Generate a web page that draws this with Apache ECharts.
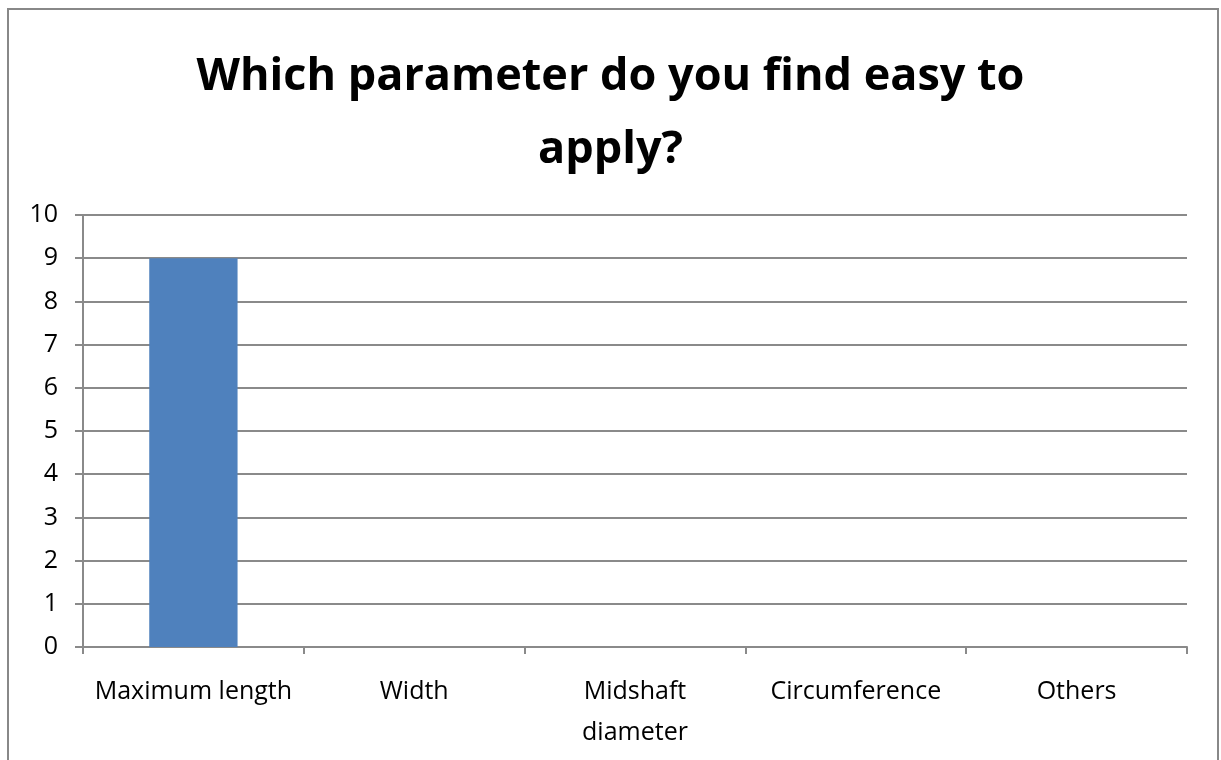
<!DOCTYPE html>
<html><head><meta charset="utf-8">
<script src="https://cdn.jsdelivr.net/npm/echarts@6/dist/echarts.min.js"></script>
<style>html,body{margin:0;padding:0;background:#fff}#c{width:1221px;height:760px}</style>
</head><body><div id="c"></div>
<script>
const titleText = "Which parameter do you find easy to\napply?";
const categories = ["Maximum length", "Width", "Midshaft\ndiameter", "Circumference", "Others"];
const values = [9, 0, 0, 0, 0];
const yMin = 0, yMax = 10, yInterval = 1;

const chart = echarts.init(document.getElementById('c'), null, {renderer: 'canvas'});
const gridColor = '#8a8a8a';
chart.setOption({
  animation: false,
  backgroundColor: '#fff',
  title: {
    text: titleText, left: 'center', top: 36,
    textStyle: {fontFamily: 'Open Sans', fontWeight: 'bold', fontSize: 45, color: '#000', lineHeight: 73}
  },
  graphic: [{type: 'rect', shape: {x: 8, y: 9, width: 1210, height: 780}, style: {fill: 'none', stroke: '#888', lineWidth: 2}, silent: true}],
  grid: {left: 83, right: 34, top: 215, bottom: 113, containLabel: false},
  xAxis: {
    type: 'category', data: categories,
    axisLine: {lineStyle: {color: gridColor, width: 2}},
    axisTick: {show: true, alignWithLabel: false, length: 7, lineStyle: {color: gridColor, width: 2}},
    axisLabel: {color: '#000', fontFamily: 'Open Sans', fontSize: 25, margin: 24, lineHeight: 41, interval: 0}
  },
  yAxis: {
    type: 'value', min: yMin, max: yMax, interval: yInterval,
    axisLine: {show: true, lineStyle: {color: gridColor, width: 2}},
    axisTick: {show: true, length: 8, lineStyle: {color: gridColor, width: 2}},
    splitLine: {lineStyle: {color: gridColor, width: 2}},
    axisLabel: {color: '#000', fontFamily: 'Open Sans', fontSize: 25, margin: 25}
  },
  series: [{type: 'bar', data: values, barWidth: '40%', itemStyle: {color: '#4F81BD'}}]
});
</script></body></html>
